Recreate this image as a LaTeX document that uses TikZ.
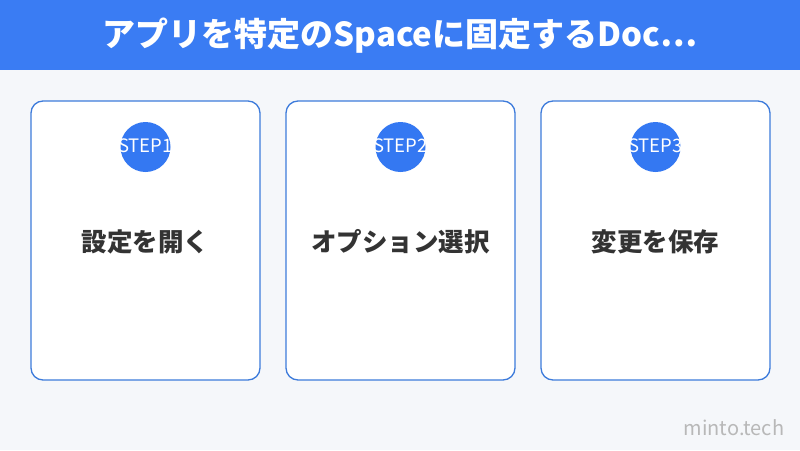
\documentclass[tikz,border=0pt]{standalone}
\usepackage{fontspec}
\setmainfont{Noto Sans CJK JP}
\definecolor{hdr}{HTML}{3A7CF3}
\definecolor{bg}{HTML}{F5F7FA}
\definecolor{cardline}{HTML}{3D7BDB}
\definecolor{circ}{HTML}{3478F2}
\definecolor{txt}{HTML}{333333}
\definecolor{wm}{HTML}{B8B8B8}
\begin{document}
\begin{tikzpicture}[x=1pt,y=-1pt,
  card/.style={draw=cardline,line width=1.3pt,fill=white,rounded corners=12pt},
  stepcirc/.style={circle,fill=circ,minimum size=50pt,inner sep=0pt},
  steptxt/.style={text=white,font=\fontsize{18.5}{18.5}\selectfont},
  label/.style={text=txt,font=\bfseries\fontsize{25.5}{25.5}\selectfont}]
\fill[bg] (0,0) rectangle (800,450);
\useasboundingbox (0,0) rectangle (800,450);
\fill[hdr] (0,0) rectangle (800,70);
\node[text=white,font=\bfseries\fontsize{33}{33}\selectfont] (title) at (400,36) {アプリを特定のSpaceに固定するDoc…};
\foreach \i/\x/\t in {1/31/設定を開く,2/286/オプション選択,3/541/変更を保存}{
  \draw[card] (\x,101) rectangle (\x+229,380);
  \node[stepcirc] (c\i) at (\x+114.5,147) {};
  \node[steptxt] (s\i) at (\x+114.5,146) {STEP\i};
  \node[label] (l\i) at (\x+114.5,242) {\t};
}
\node[text=wm,font=\fontsize{20}{20}\selectfont] (wm) at (734,428) {minto.tech};
\end{tikzpicture}
\end{document}
